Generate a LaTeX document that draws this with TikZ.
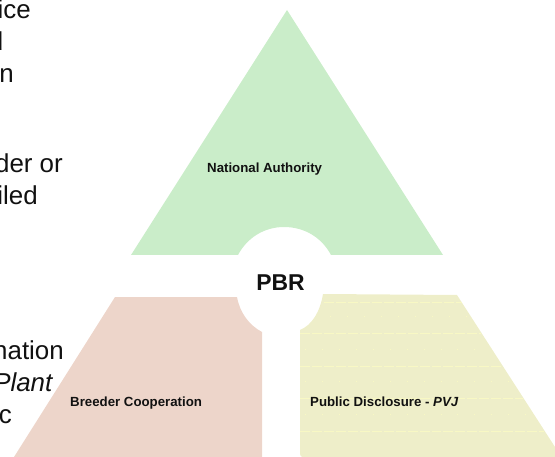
\documentclass[tikz,border=0pt]{standalone}
\usepackage{fontspec}
\setmainfont{Liberation Sans}
\definecolor{greenf}{HTML}{CAEDC9}
\definecolor{pinkf}{HTML}{EDD5CA}
\definecolor{yellowf}{HTML}{EEEEC9}
\definecolor{yline}{HTML}{F8F8C4}
\definecolor{ink}{HTML}{111111}
\tikzset{
  lefttext/.style={anchor=base east,inner sep=0pt,text=ink,font=\fontsize{26}{30}\selectfont},
  labeltext/.style={anchor=base west,inner sep=0pt,text=ink,font=\bfseries\fontsize{13.3}{16}\selectfont},
  ydash/.style={yline,line width=0.7pt,dash pattern=on 10pt off 2pt},
  ydot/.style={yline,line width=0.7pt,dash pattern=on 1pt off 16pt},
}
\begin{document}
\begin{tikzpicture}[x=1bp,y=-1bp]
\useasboundingbox (0,0) rectangle (555,457);
\clip (0,0) rectangle (555,457);
% shapes
\fill[greenf] (287,10) -- (443,255) -- (331,255)
  .. controls (322,238) and (305,227) .. (284,227)
  .. controls (264,227) and (247,238) .. (238,255)
  -- (131,255) -- cycle;
\fill[pinkf] (115,297) -- (237,297)
  .. controls (240,313) and (249,325) .. (262,332)
  -- (262,457) -- (14,457) -- cycle;
\fill[yellowf] (323,294) -- (457,295) -- (555,447) -- (555,457) -- (303,457)
  .. controls (301,457) and (300,456) .. (300,454)
  -- (300,330)
  .. controls (312,325) and (320,312) .. (323,294) -- cycle;
% faint rules on the yellow shape
\draw[ydash] (324,302) -- (462,302);
\draw[ydash] (300,333) -- (481,333);
\draw[ydash] (300,366) -- (502,366);
\draw[ydash] (300,398) -- (523,398);
\draw[ydash] (300,431) -- (544,431);
\draw[ydot] (330,316) -- (470,316);
\draw[ydot] (305,349) -- (490,349);
\draw[ydot] (305,381) -- (510,381);
\draw[ydot] (305,414) -- (532,414);
% labels
\node[labeltext] (na) at (207,173) {National Authority};
\node[labeltext] (bc) at (70,406) {Breeder Cooperation};
\node[labeltext] (pd) at (310,406) {Public Disclosure - \textit{PVJ}};
\node[anchor=base,inner sep=0pt,text=ink,font=\bfseries\fontsize{23}{27}\selectfont] (pbr) at (280.5,290) {PBR};
% cropped text at the left
\node[lefttext] (t1) at (31,19) {ice};
\node[lefttext] (t2) at (3.5,51) {d};
\node[lefttext] (t3) at (14,83) {n};
\node[lefttext] (t4) at (63,173) {der or};
\node[lefttext] (t5) at (38,205) {iled};
\node[lefttext] (t6) at (64,359) {nation};
\node[lefttext,font=\itshape\fontsize{26}{30}\selectfont] (t7) at (52.5,391) {Plant};
\node[lefttext] (t8) at (12,423) {c};
\end{tikzpicture}
\end{document}
